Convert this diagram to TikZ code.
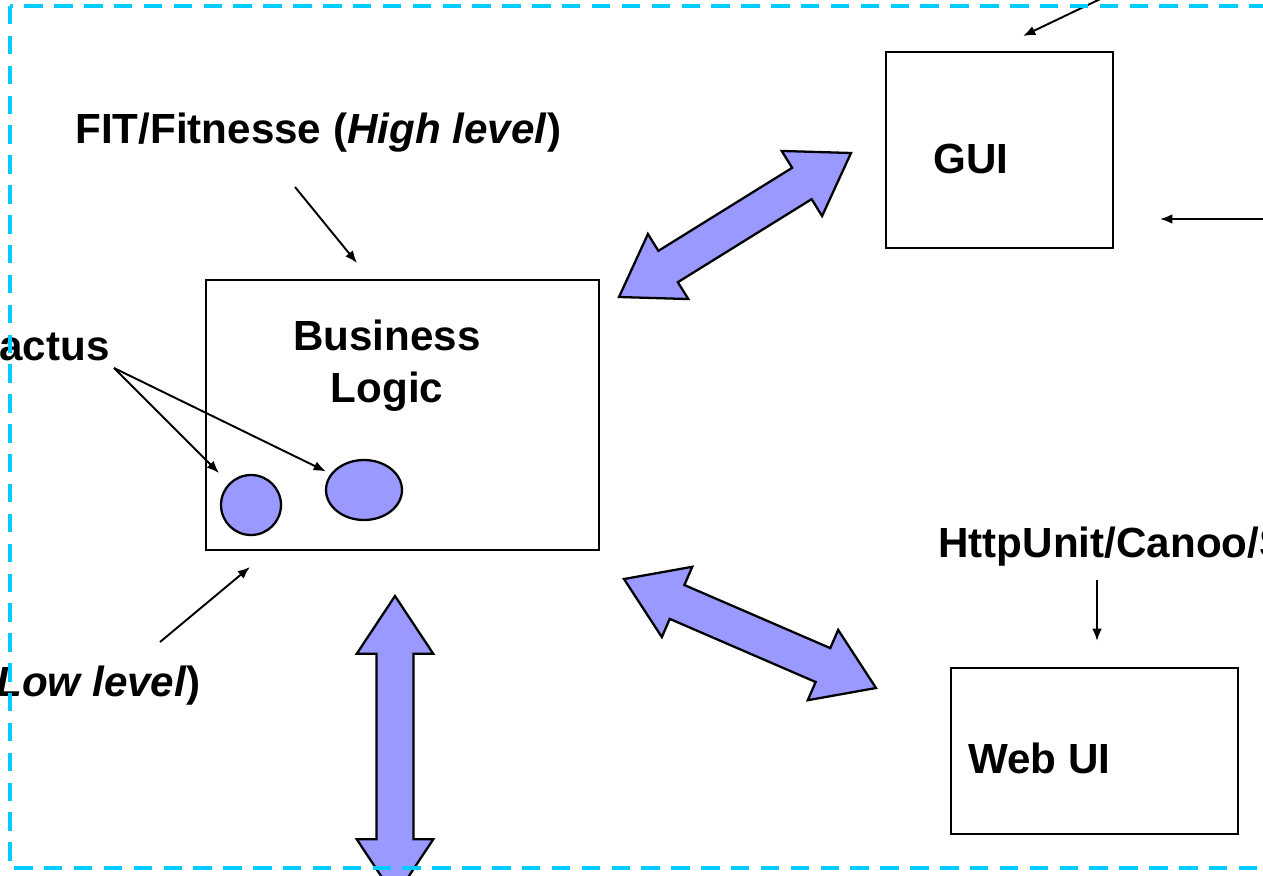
\documentclass[tikz,border=0pt]{standalone}
\usepackage{fontspec}
\setmainfont{Liberation Sans}
\usetikzlibrary{arrows.meta, calc, shapes.geometric}
\definecolor{zone}{RGB}{0, 204, 255}
\definecolor{blob}{RGB}{153, 153, 255}

% sizes of the fat two-headed arrows
\newcommand\headlen{32.9pt}
\newcommand\headhalf{21.8pt}
\newcommand\shafthalf{10.5pt}
\newcommand\fatarrow[2]{%
  \filldraw[fatarrow] let \p1=(#1), \p2=(#2), \n1={atan2(\y2-\y1,\x2-\x1)} in
    (\p1) -- ($(\p1)+(\n1:\headlen)+(\n1+90:\headhalf)$)
    -- ($(\p1)+(\n1:\headlen)+(\n1+90:\shafthalf)$)
    -- ($(\p2)+(\n1+180:\headlen)+(\n1+90:\shafthalf)$)
    -- ($(\p2)+(\n1+180:\headlen)+(\n1+90:\headhalf)$)
    -- (\p2)
    -- ($(\p2)+(\n1+180:\headlen)+(\n1-90:\headhalf)$)
    -- ($(\p2)+(\n1+180:\headlen)+(\n1-90:\shafthalf)$)
    -- ($(\p1)+(\n1:\headlen)+(\n1-90:\shafthalf)$)
    -- ($(\p1)+(\n1:\headlen)+(\n1-90:\headhalf)$) -- cycle;}

\tikzset{
  box/.style={draw, line width=1.5pt, inner sep=0pt},
  lbl/.style={font=\fontsize{24}{29.5}\selectfont\bfseries, inner sep=0pt},
  pointer/.style={-{Latex[length=7pt,width=5.5pt]}, line width=1.1pt},
  blobshape/.style={draw, fill=blob, line width=1.3pt, inner sep=0pt},
  fatarrow/.style={draw=black, fill=blob, line width=1.3pt, line join=miter},
}

\begin{document}
\begin{tikzpicture}[x=0.02cm, y=-0.02cm]
  \useasboundingbox (0,0) rectangle (1263,875);
  \clip (0,0) rectangle (1263,875);

  % layers
  \node[box, minimum width=7.86cm, minimum height=5.4cm] (logic) at (402.5,415) {};
  \node[box, minimum width=4.54cm, minimum height=3.92cm] (gui) at (999.5,150) {};
  \node[box, minimum width=5.74cm, minimum height=3.32cm] (web) at (1094.5,751) {};
  \node[lbl, anchor=base, align=center] (logic-text) at (387,402) {Business\\Logic};
  \node[lbl, anchor=base west] (gui-text) at (933,173) {GUI};
  \node[lbl, anchor=base west] (web-text) at (968,773) {Web UI};

  % objects inside the business logic
  \node[blobshape, circle, minimum size=1.2cm] (obj1) at (251,505) {};
  \node[blobshape, ellipse, minimum width=1.52cm, minimum height=1.2cm] (obj2) at (364,490) {};

  % tools
  \node[lbl, anchor=base west] (fit) at (75,143) {FIT/Fitnesse (\textit{High level})};
  \node[lbl, anchor=base west] (cactus) at (-1,360) {actus};
  \node[lbl, anchor=base west] (junit) at (-4,696) {\textit{Low level})};
  \node[lbl, anchor=base west] (httpunit) at (938,557) {HttpUnit/Canoo/S};

  % pointers from the tools
  \coordinate (fit-out) at (295,187);
  \coordinate (logic-top) at (357,263);
  \draw[pointer] (fit-out) -- (logic-top);
  \coordinate (cactus-fork) at (114,368);
  \draw[pointer, shorten >=8pt] (cactus-fork) -- (obj1);
  \draw[pointer, shorten >=3pt] (cactus-fork) -- (obj2);
  \coordinate (junit-out) at (160,642);
  \coordinate (logic-bottom) at (250,567);
  \draw[pointer] (junit-out) -- (logic-bottom);
  \coordinate (http-out) at (1097,580);
  \coordinate (web-top) at (1097,641);
  \draw[pointer] (http-out) -- (web-top);
  \coordinate (gui-top-out) at (1140,-20);
  \coordinate (gui-top) at (1023,36);
  \draw[pointer] (gui-top-out) -- (gui-top);
  \coordinate (gui-right-out) at (1300,219);
  \coordinate (gui-right) at (1160,219);
  \draw[pointer] (gui-right-out) -- (gui-right);

  % links between the layers
  \coordinate (link1a) at (619,297);
  \coordinate (link1b) at (851,153);
  \fatarrow{link1a}{link1b}
  \coordinate (link2a) at (624,579);
  \coordinate (link2b) at (876,688);
  \fatarrow{link2a}{link2b}
  \coordinate (link3a) at (395,596);
  \coordinate (link3b) at (395,897);
  \fatarrow{link3a}{link3b}

  % system boundary
  \draw[zone, line width=1.9pt, dash pattern=on 10.5pt off 6.5pt] (10,6) rectangle (1300,868);
\end{tikzpicture}
\end{document}
